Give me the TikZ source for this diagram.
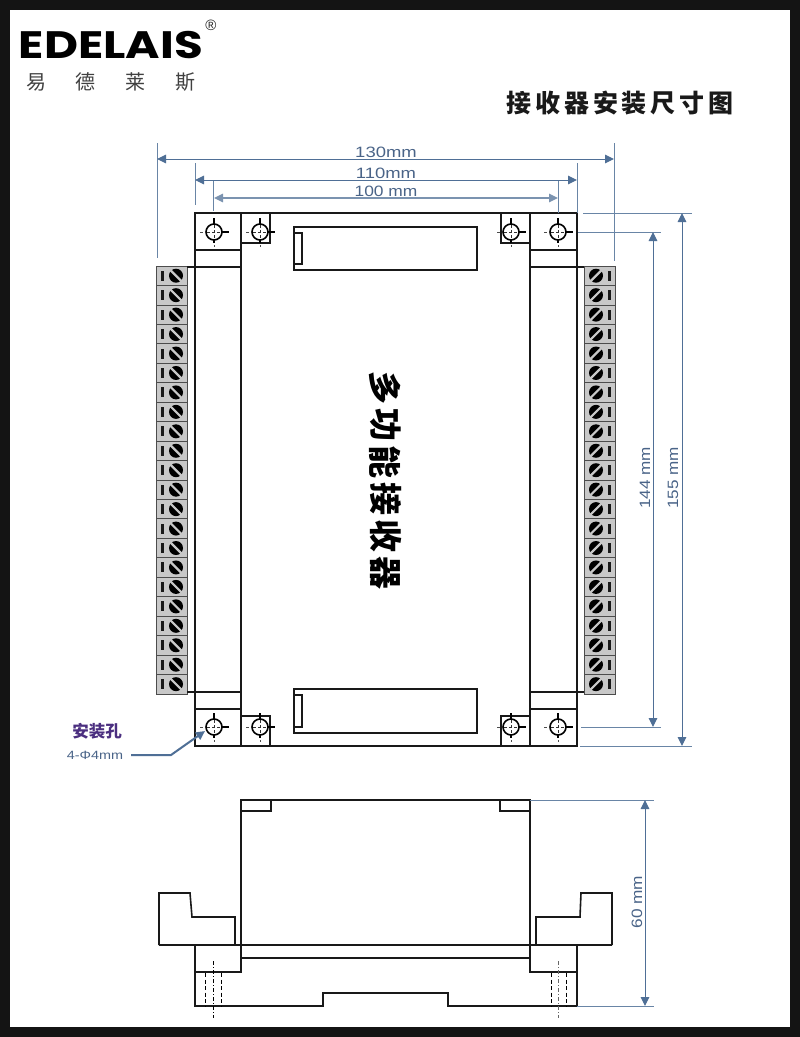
\documentclass[tikz,border=0pt]{standalone}
\usepackage{fontspec}
\setmainfont{Liberation Sans}
\newfontfamily\cjk{Noto Sans CJK SC}
\newfontfamily\logofont{Poppins}
\usetikzlibrary{arrows.meta}
\definecolor{frame}{HTML}{141414}
\definecolor{dimc}{HTML}{4F6F96}
\definecolor{dimt}{HTML}{4A6488}
\definecolor{purp}{HTML}{4B2F80}
\definecolor{term}{HTML}{C8C8C8}
\tikzset{
 outl/.style={line width=1.6pt,black!90},
 thick2/.style={line width=2pt,black!90},
 dimline/.style={line width=1pt,dimc,{Triangle[length=9pt,width=8.5pt]}-{Triangle[length=9pt,width=8.5pt]}},
 extline/.style={line width=.9pt,dimc!85!white},
 dimtxt/.style={text=dimt,font=\fontsize{15}{15}\selectfont,inner sep=0pt},
 ctr/.style={line width=.6pt,black!80},
}
\newcommand\holemark[2]{%
 \draw[line width=1.1pt,black] (#1+8,#2)--(#1+15,#2) (#1,#2-14)--(#1,#2-8) (#1,#2+8)--(#1,#2+11);
 \draw[line width=.9pt,black!70] (#1-14,#2)--(#1-11,#2) (#1,#2+13)--(#1,#2+15);
 \draw[ctr,dash pattern=on 3pt off 2pt] (#1-7,#2)--(#1+7,#2) (#1,#2-7)--(#1,#2+7);
 \draw[line width=1.6pt] (#1,#2) circle (8pt);
}
\newcommand\leftterm[1]{%
 \fill[black] (176,#1) circle (7pt);
 \draw[term,line width=2.2pt] (170.5,#1-5.5)--(181.5,#1+5.5);
 \fill[black!90] (160.5,#1-5) rectangle (163.5,#1+5);
}
\newcommand\rightterm[1]{%
 \fill[black] (596,#1) circle (7pt);
 \draw[term,line width=2.2pt] (590.5,#1+5.5)--(601.5,#1-5.5);
 \fill[black!90] (608,#1-5) rectangle (611,#1+5);
}
\begin{document}
\begin{tikzpicture}[x=1pt,y=-1pt]
\useasboundingbox (0,0) rectangle (800,1037);
\fill[frame] (0,0) rectangle (800,1037);
\fill[white] (10,10) rectangle (790,1027);
% logo
\node[inner sep=0pt,anchor=center,xscale=1.2,yscale=.98] (logo) at (111,45.5) {\logofont\bfseries\fontsize{39}{39}\selectfont EDELAIS};
\node[inner sep=0pt,text=black!85] (reg) at (211,25) {\fontsize{15}{15}\selectfont ®};
\node[inner sep=0pt,text=black!75] (l1) at (36,82) {\cjk\fontsize{20}{20}\selectfont 易};
\node[inner sep=0pt,text=black!75] (l2) at (85,82) {\cjk\fontsize{20}{20}\selectfont 德};
\node[inner sep=0pt,text=black!75] (l3) at (135,82) {\cjk\fontsize{20}{20}\selectfont 莱};
\node[inner sep=0pt,text=black!75] (l4) at (185,82) {\cjk\fontsize{20}{20}\selectfont 斯};
% title
\foreach \c [count=\i from 0] in {接,收,器,安,装,尺,寸,图}
 \node[inner sep=0pt,text=black!90] (t\i) at (519+\i*28.85,103) {\cjk\bfseries\fontsize{25}{25}\selectfont \c};
% terminals
\fill[term] (156,266) rectangle (187,694);
\fill[term] (584,266) rectangle (615,694);
\foreach \i in {0,...,22} {
 \draw[black!70,line width=.8pt] (156,266+\i*19.45)--(187,266+\i*19.45);
 \draw[black!70,line width=.8pt] (584,266+\i*19.45)--(615,266+\i*19.45);
}
\draw[black!70,line width=.9pt] (156,266) rectangle (187,694);
\draw[black!70,line width=.9pt] (584,266) rectangle (615,694);
\foreach \i in {0,...,21} {
 \pgfmathsetmacro\yy{275.7+\i*19.45}
 \leftterm{\yy}
 \rightterm{\yy}
}
% body
\draw[outl] (195,213) rectangle (577,746);
\draw[outl] (241,213)--(241,746) (530,213)--(530,746);
\draw[outl] (195,250)--(241,250) (530,250)--(577,250);
\draw[outl] (187,267)--(241,267) (530,267)--(584,267);
\draw[outl] (195,709)--(241,709) (530,709)--(577,709);
\draw[outl] (187,692)--(241,692) (530,692)--(584,692);
\draw[thick2] (241,213) rectangle (270,243) (501,213) rectangle (530,243);
\draw[thick2] (241,716) rectangle (270,746) (501,716) rectangle (530,746);
\draw[outl] (294,227) rectangle (477,270) (294,233) rectangle (302,264);
\draw[outl] (294,689) rectangle (477,733) (294,695) rectangle (302,727);
\holemark{214}{232}\holemark{260}{232}\holemark{511}{232}\holemark{558}{232}
\holemark{214}{727}\holemark{260}{727}\holemark{511}{727}\holemark{558}{727}
% centre label
\foreach \c [count=\i from 0] in {多,功,能,接,收,器}
 \node[inner sep=0pt,rotate=-90,text=black] (m\i) at (385.5,388+\i*37) {\cjk\bfseries\fontsize{33}{33}\selectfont \c};
% dimensions
\coordinate (a1) at (157,159); \coordinate (a2) at (614,159);
\coordinate (b1) at (195,180); \coordinate (b2) at (577,180);
\coordinate (c1) at (214,198); \coordinate (c2) at (558,198);
\draw[extline] (157,143)--(157,258) (614,143)--(614,261);
\draw[extline] (195,163)--(195,205) (577,163)--(577,213);
\draw[extline] (213,181)--(213,211) (558,181)--(558,213);
\draw[dimline] (a1)--(a2);
\draw[dimline] (b1)--(b2);
\draw[dimline,line width=1.4pt,dimc!75!white] (c1)--(c2);
\node[dimtxt,xscale=1.23] (d130) at (386,152.5) {130mm};
\node[dimtxt,xscale=1.23] (d110) at (386,173) {110mm};
\node[dimtxt,xscale=1.16] (d100) at (386,191) {100 mm};
\coordinate (e1) at (682,213); \coordinate (e2) at (682,746);
\coordinate (f1) at (653,232); \coordinate (f2) at (653,727);
\draw[extline] (583,213)--(692,213) (580,746)--(692,746);
\draw[extline] (578,232)--(661,232) (581,727)--(661,727);
\draw[dimline] (e1)--(e2);
\draw[dimline] (f1)--(f2);
\node[dimtxt,rotate=90,xscale=1.14] (d144) at (645,478) {144 mm};
\node[dimtxt,rotate=90,xscale=1.14] (d155) at (673,478) {155 mm};
% mounting hole label
\node[inner sep=0pt,text=purp] (hole) at (97,731) {\cjk\bfseries\fontsize{16.5}{16.5}\selectfont 安装孔};
\node[inner sep=0pt,text=dimt,xscale=1.2] (phi) at (95,755) {\fontsize{12}{12}\selectfont 4-Φ4mm};
\coordinate (ph) at (205,731);
\draw[line width=2pt,dimc,-{Triangle[length=9pt,width=8.5pt]}] (131,755)--(171,755)--(ph);
% side view
\draw[outl] (241,945)--(241,800)--(530,800)--(530,945);
\draw[outl] (241,800) rectangle (271,811) (500,800) rectangle (530,811);
\draw[outl] (235,945)--(235,917)--(192,917)--(190,893)--(159,893)--(159,945);
\draw[outl] (536,945)--(536,917)--(580,917)--(581,893)--(612,893)--(612,945);
\draw[thick2] (159,945)--(612,945);
\draw[outl] (195,945)--(195,1006)--(323,1006)--(323,993)--(448,993)--(448,1006)--(577,1006)--(577,945);
\draw[outl] (195,972)--(241,972)--(241,945);
\draw[outl] (577,972)--(530,972)--(530,945);
\draw[outl] (241,958)--(530,958);
\draw[line width=.8pt,dash pattern=on 4pt off 2.5pt] (205,973)--(205,1006) (221,973)--(221,1006) (551,973)--(551,1006) (566,973)--(566,1006);
\draw[line width=.8pt,dash pattern=on 4pt off 2pt on 1pt off 2pt] (213,961)--(213,1018);
\draw[line width=.8pt,black!60,dash pattern=on 4pt off 2pt on 1pt off 2pt] (558,961)--(558,1018);
\coordinate (g1) at (645,800); \coordinate (g2) at (645,1006);
\draw[extline] (530,800)--(654,800) (577,1006)--(654,1006);
\draw[dimline] (g1)--(g2);
\node[dimtxt,rotate=90,xscale=1.15] (d60) at (637,902) {60 mm};
\end{tikzpicture}
\end{document}
